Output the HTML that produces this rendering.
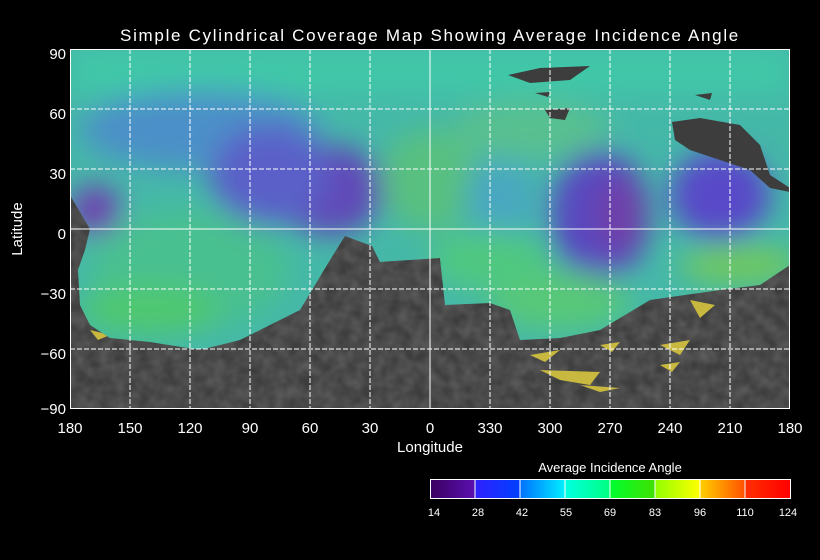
<!DOCTYPE html>
<html><head><meta charset="utf-8"><style>
html,body{margin:0;padding:0;background:#000;}
svg{display:block;font-family:"Liberation Sans",sans-serif;}
</style></head><body>
<svg width="820" height="560" viewBox="0 0 820 560" xmlns="http://www.w3.org/2000/svg">
<defs>
<filter id="b" x="-30%" y="-30%" width="160%" height="160%"><feGaussianBlur stdDeviation="14"/></filter>
<filter id="n" x="0" y="0" width="1" height="1"><feTurbulence type="fractalNoise" baseFrequency="0.08" numOctaves="2" seed="3"/><feColorMatrix values="0 0 0 0 0.3  0 0 0 0 0.3  0 0 0 0 0.3  0 0 0 0.5 -0.1"/></filter>
<clipPath id="cov"><path d="M70,49 L790,49 L790,265 L760,285 L720,290 L650,300 L600,330 L560,338 L520,340 L510,310 L490,303 L445,305 L440,258 L380,262 L372,246 L345,236 L330,260 L312,290 L300,310 L280,320 L240,340 L200,350 L150,342 L110,338 L90,325 L80,305 L78,270 L85,250 L90,229 L80,212 L70,195 Z"/></clipPath>
<linearGradient id="g1" x1="0" x2="1"><stop offset="0" stop-color="#3a0060"/><stop offset="1" stop-color="#5a10b0"/></linearGradient>
<linearGradient id="g2" x1="0" x2="1"><stop offset="0" stop-color="#3020ff"/><stop offset="1" stop-color="#0040ff"/></linearGradient>
<linearGradient id="g3" x1="0" x2="1"><stop offset="0" stop-color="#0070ff"/><stop offset="1" stop-color="#00f0ff"/></linearGradient>
<linearGradient id="g4" x1="0" x2="1"><stop offset="0" stop-color="#00ffe0"/><stop offset="1" stop-color="#00ff80"/></linearGradient>
<linearGradient id="g5" x1="0" x2="1"><stop offset="0" stop-color="#00ff30"/><stop offset="1" stop-color="#40e000"/></linearGradient>
<linearGradient id="g6" x1="0" x2="1"><stop offset="0" stop-color="#90ff00"/><stop offset="1" stop-color="#ffff00"/></linearGradient>
<linearGradient id="g7" x1="0" x2="1"><stop offset="0" stop-color="#ffd000"/><stop offset="1" stop-color="#ff5000"/></linearGradient>
<linearGradient id="g8" x1="0" x2="1"><stop offset="0" stop-color="#ff3000"/><stop offset="1" stop-color="#ff0000"/></linearGradient>
</defs>
<text x="430" y="41" fill="#fff" font-size="17" text-anchor="middle" letter-spacing="1.7">Simple Cylindrical Coverage Map Showing Average Incidence Angle</text>
<rect x="70" y="49" width="720" height="360" fill="#3d3d3d"/>
<rect x="70" y="49" width="720" height="360" filter="url(#n)"/>
<g fill="#c8b840">
<polygon points="530,355 560,350 545,362"/><polygon points="540,370 600,372 590,385 560,380"/><polygon points="580,385 620,388 600,392"/><polygon points="660,345 690,340 680,355"/><polygon points="690,300 715,305 700,318"/><polygon points="660,365 680,362 672,372"/><polygon points="600,345 620,342 612,352"/><polygon points="90,330 110,335 98,340"/>
</g>
<g clip-path="url(#cov)">
<rect x="70" y="49" width="720" height="300" fill="#45b8a8"/>
<g filter="url(#b)">
<rect x="70" y="49" width="720" height="45" fill="#40c8a8"/>
<ellipse cx="200" cy="130" rx="120" ry="40" fill="#4c90c8"/>
<ellipse cx="330" cy="190" rx="55" ry="45" fill="#6048b8"/>
<ellipse cx="270" cy="175" rx="60" ry="50" fill="#5a60c8"/>
<ellipse cx="95" cy="210" rx="25" ry="25" fill="#7040b0"/>
<ellipse cx="190" cy="270" rx="100" ry="60" fill="#48c090"/>
<ellipse cx="150" cy="310" rx="70" ry="25" fill="#50c870"/>
<ellipse cx="430" cy="180" rx="50" ry="50" fill="#58c080"/>
<ellipse cx="600" cy="215" rx="50" ry="65" fill="#5848c0"/>
<ellipse cx="620" cy="215" rx="25" ry="40" fill="#7040a8"/>
<ellipse cx="720" cy="195" rx="50" ry="45" fill="#5848c8"/>
<ellipse cx="500" cy="200" rx="35" ry="45" fill="#48a8c0"/>
<ellipse cx="560" cy="300" rx="70" ry="30" fill="#58c878"/>
<ellipse cx="490" cy="260" rx="60" ry="30" fill="#50c880"/>
<ellipse cx="740" cy="265" rx="60" ry="20" fill="#70c860"/>
<ellipse cx="530" cy="130" rx="80" ry="30" fill="#58c090"/>
</g>
</g>
<g fill="#3d3d3d">
<polygon points="508,75 540,68 590,66 570,80 530,83"/><polygon points="535,93 550,92 548,97"/><polygon points="695,95 712,93 710,100"/>
<polygon points="545,110 570,108 565,120 550,118"/>
<polygon points="672,122 700,118 740,125 760,145 770,175 790,188 790,192 770,188 750,170 720,160 690,150 675,140"/>
</g>
<g stroke="#fff" stroke-width="1" stroke-dasharray="5,2" fill="none">
<path d="M130,49V409M190,49V409M250,49V409M310,49V409M370,49V409M490,49V409M550,49V409M610,49V409M670,49V409M730,49V409"/>
<path d="M70,109H790M70,169H790M70,289H790M70,349H790"/>
</g>
<g stroke="#fff" stroke-width="1" fill="none">
<path d="M430,49V409M70,229H790"/>
<rect x="70.5" y="49.5" width="719" height="359"/>
</g>
<g fill="#fff" font-size="15" text-anchor="end">
<text x="66" y="59">90</text><text x="66" y="119">60</text><text x="66" y="179">30</text><text x="66" y="239">0</text><text x="66" y="299">−30</text><text x="66" y="359">−60</text><text x="66" y="414">−90</text>
</g>
<g fill="#fff" font-size="15" text-anchor="middle">
<text x="70" y="433">180</text><text x="130" y="433">150</text><text x="190" y="433">120</text><text x="250" y="433">90</text><text x="310" y="433">60</text><text x="370" y="433">30</text><text x="430" y="433">0</text><text x="490" y="433">330</text><text x="550" y="433">300</text><text x="610" y="433">270</text><text x="670" y="433">240</text><text x="730" y="433">210</text><text x="790" y="433">180</text>
<text x="430" y="452">Longitude</text>
<text x="22" y="229" transform="rotate(-90 22 229)">Latitude</text>
</g>
<text x="610" y="472" fill="#fff" font-size="13" text-anchor="middle">Average Incidence Angle</text>
<rect x="430" y="479" width="45" height="20" fill="url(#g1)"/><rect x="475" y="479" width="45" height="20" fill="url(#g2)"/><rect x="520" y="479" width="45" height="20" fill="url(#g3)"/><rect x="565" y="479" width="45" height="20" fill="url(#g4)"/><rect x="610" y="479" width="45" height="20" fill="url(#g5)"/><rect x="655" y="479" width="45" height="20" fill="url(#g6)"/><rect x="700" y="479" width="45" height="20" fill="url(#g7)"/><rect x="745" y="479" width="45" height="20" fill="url(#g8)"/>
<g stroke="#fff" fill="none"><rect x="430.5" y="479.5" width="360" height="19"/><path d="M475,479V499M520,479V499M565,479V499M610,479V499M655,479V499M700,479V499M745,479V499"/></g>
<g fill="#fff" font-size="11" text-anchor="middle">
<text x="434" y="516">14</text><text x="478" y="516">28</text><text x="522" y="516">42</text><text x="566" y="516">55</text><text x="610" y="516">69</text><text x="655" y="516">83</text><text x="700" y="516">96</text><text x="745" y="516">110</text><text x="788" y="516">124</text>
</g>
</svg>
</body></html>
